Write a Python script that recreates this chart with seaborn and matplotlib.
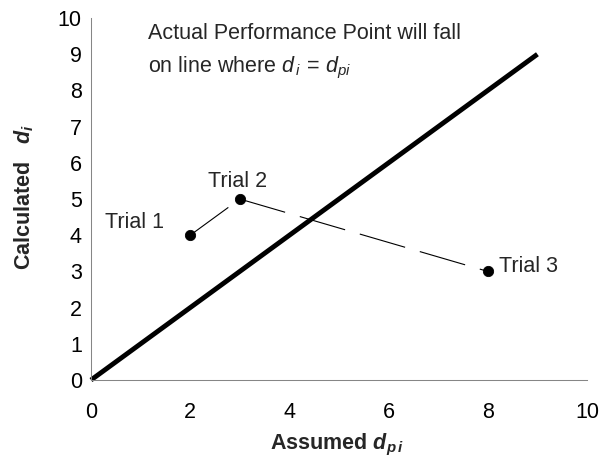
import pandas as pd
import matplotlib.pyplot as plt
import seaborn as sns

# --------------------------------------
# DATA
# --------------------------------------

equal_x = [0, 9]
equal_y = [0, 9]

trial_names = ["Trial 1", "Trial 2", "Trial 3"]
assumed_dpi = [2, 3, 8]
calculated_di = [4, 5, 3]

x_ticks = [0, 2, 4, 6, 8, 10]
y_ticks = [0, 1, 2, 3, 4, 5, 6, 7, 8, 9, 10]

note_lines = [
    "Actual Performance Point will fall",
    r"on line where $d_{\,i}\,=\,d_{pi}$",
]

df = pd.DataFrame({"trial": trial_names, "dpi": assumed_dpi, "di": calculated_di})

# --------------------------------------
# STYLE
# --------------------------------------

sns.set_style("white")
plt.rcParams["font.family"] = ["Liberation Sans", "DejaVu Sans"]
plt.rcParams["mathtext.fontset"] = "custom"
plt.rcParams["mathtext.rm"] = "Liberation Sans"
plt.rcParams["mathtext.it"] = "Liberation Sans:italic"
plt.rcParams["mathtext.bf"] = "Liberation Sans:bold"
plt.rcParams["mathtext.bfit"] = "Liberation Sans:italic:bold"
plt.rcParams["lines.scale_dashes"] = False

axis_grey = "#868686"
fs = 15.5

fig = plt.figure(figsize=(6.09, 4.66), dpi=100)
ax = fig.add_axes([0.1494, 0.1845, 0.8145, 0.7768])

# --------------------------------------
# LINES AND POINTS
# --------------------------------------

sns.lineplot(x=equal_x, y=equal_y, color="black", linewidth=3.5,
             solid_capstyle="butt", clip_on=False, ax=ax)

# dash pattern restarts at every trial point, so draw each leg separately
for i in range(len(df) - 1):
    leg = df.iloc[i:i + 2]
    sns.lineplot(data=leg, x="dpi", y="di", sort=False, estimator=None,
                 color="black", linewidth=0.8,
                 linestyle=(0, (34, 11)), ax=ax)

sns.scatterplot(data=df, x="dpi", y="di", color="black", s=55,
                edgecolor="black", zorder=5, ax=ax)

label_offsets = [(-85, 7), (-32, 12), (11, -1)]
for name, x, y, off in zip(trial_names, assumed_dpi, calculated_di, label_offsets):
    ax.annotate(name, (x, y), xytext=off, textcoords="offset pixels",
                ha="left", va="baseline", fontsize=fs)

ax.text(1.15, 9.42, note_lines[0], fontsize=fs, ha="left", va="baseline")
ax.text(1.15, 8.51, note_lines[1], fontsize=fs, ha="left", va="baseline")

# --------------------------------------
# AXES
# --------------------------------------

ax.set_xlim(0, 10)
ax.set_ylim(0, 10)
ax.set_xticks(x_ticks)
ax.set_yticks(y_ticks)

ax.tick_params(axis="both", direction="out", length=3.6, width=0.75,
               color=axis_grey, labelcolor="black", labelsize=fs)
ax.tick_params(axis="x", pad=12)
ax.tick_params(axis="y", pad=3)

for side in ["top", "right"]:
    ax.spines[side].set_visible(False)
for side in ["left", "bottom"]:
    ax.spines[side].set_color(axis_grey)
    ax.spines[side].set_linewidth(0.75)

ax.set_xlabel(r"Assumed $\mathbfit{d}_{\mathbfit{p\,i}}$",
              fontsize=fs, fontweight="bold", va="center")
ax.set_ylabel(r"Calculated   $\mathbfit{d}_{\mathbfit{i}}$",
              fontsize=fs, fontweight="bold", va="center")
ax.xaxis.set_label_coords(0.496, -0.18)
ax.yaxis.set_label_coords(-0.135, 0.506)

plt.savefig("out.png", dpi=100)
